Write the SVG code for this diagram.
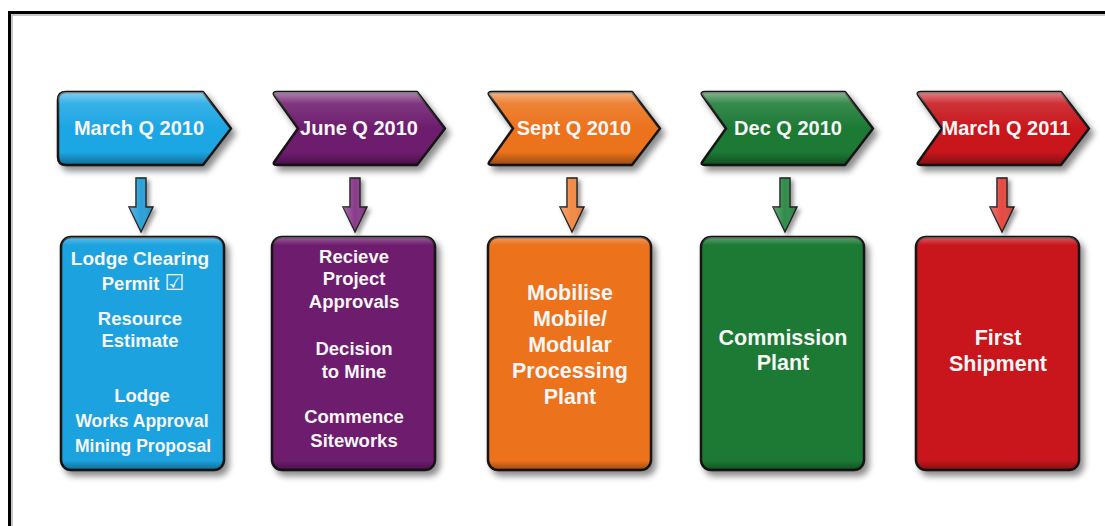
<svg xmlns="http://www.w3.org/2000/svg" width="1105" height="526" viewBox="0 0 1105 526">
  <style>
    .lbl { font-family: "Liberation Sans", Arial, sans-serif; font-weight: bold; fill: #f6f6f6; text-anchor: middle; }
    .hdr { font-size: 20px; }
    .sm { font-size: 18.5px; }
    .lg { font-size: 21.5px; }
    .edge { stroke: #161616; stroke-width: 2.5; stroke-linejoin: round; }
    .conn { stroke: #1c1c1c; stroke-width: 1.4; stroke-linejoin: miter; }
    .tick { font-family: "DejaVu Sans", sans-serif; font-weight: normal; font-size: 22px; }
  </style>
  <defs>
    <!-- header tab with flat left end (first quarter) -->
    <path id="tabFlat" d="M8,0 H145 L173,36.5 L145,73 H8 Q0,73 0,65 V8 Q0,0 8,0 Z"/>
    <!-- header chevron with notched left end -->
    <path id="tabChev" d="M5,0 H145 L173,36.5 L145,73 H5 Q0,73 2.5,69.5 L26,36.5 L2.5,3.5 Q0,0 5,0 Z"/>
    <!-- milestone card -->
    <rect id="card" x="0" y="0" width="163" height="233" rx="10" ry="10"/>
    <!-- down arrow, centred on x=0 -->
    <path id="down" d="M-5,178 H5 V207 H12 L0,232 L-12,207 H-5 Z"/>

    <linearGradient id="tabShade" x1="0" y1="0" x2="0" y2="1">
      <stop offset="0" stop-color="#fff" stop-opacity="0.45"/>
      <stop offset="0.16" stop-color="#fff" stop-opacity="0.12"/>
      <stop offset="0.5" stop-color="#fff" stop-opacity="0"/>
      <stop offset="0.82" stop-color="#000" stop-opacity="0"/>
      <stop offset="1" stop-color="#000" stop-opacity="0.35"/>
    </linearGradient>
    <linearGradient id="cardShade" x1="0" y1="0" x2="0" y2="1">
      <stop offset="0" stop-color="#fff" stop-opacity="0.3"/>
      <stop offset="0.035" stop-color="#fff" stop-opacity="0"/>
      <stop offset="0.96" stop-color="#000" stop-opacity="0"/>
      <stop offset="1" stop-color="#000" stop-opacity="0.35"/>
    </linearGradient>
    <linearGradient id="arrowShade" x1="0" y1="0" x2="1" y2="0">
      <stop offset="0" stop-color="#fff" stop-opacity="0.25"/>
      <stop offset="0.5" stop-color="#fff" stop-opacity="0"/>
      <stop offset="1" stop-color="#000" stop-opacity="0.2"/>
    </linearGradient>

    <filter id="drop" x="-10%" y="-10%" width="130%" height="130%">
      <feGaussianBlur in="SourceAlpha" stdDeviation="3"/>
      <feOffset dx="4" dy="5" result="b"/>
      <feFlood flood-color="#000" flood-opacity="0.45"/>
      <feComposite in2="b" operator="in"/>
      <feMerge>
        <feMergeNode/>
        <feMergeNode in="SourceGraphic"/>
      </feMerge>
    </filter>
    <filter id="dropSm" x="-50%" y="-20%" width="200%" height="150%">
      <feGaussianBlur in="SourceAlpha" stdDeviation="2"/>
      <feOffset dx="3" dy="3" result="b"/>
      <feFlood flood-color="#000" flood-opacity="0.4"/>
      <feComposite in2="b" operator="in"/>
      <feMerge>
        <feMergeNode/>
        <feMergeNode in="SourceGraphic"/>
      </feMerge>
    </filter>
  </defs>

  <rect width="1105" height="526" fill="#fff"/>

  <!-- frame -->
  <path d="M9.5,526 V12.5 H1105" fill="none" stroke="#000" stroke-width="3"/>
  <path d="M12,526 V15 H1105" fill="none" stroke="#b4b4b4" stroke-width="1.5"/>

  <!-- connectors -->
  <g id="connectors" class="conn">
    <g filter="url(#dropSm)"><use href="#down" x="141" fill="#2aa0da"/></g>
    <use href="#down" x="141" fill="url(#arrowShade)" stroke="none"/>
    <g filter="url(#dropSm)"><use href="#down" x="355" fill="#8a3a8a"/></g>
    <use href="#down" x="355" fill="url(#arrowShade)" stroke="none"/>
    <g filter="url(#dropSm)"><use href="#down" x="572" fill="#f28a45"/></g>
    <use href="#down" x="572" fill="url(#arrowShade)" stroke="none"/>
    <g filter="url(#dropSm)"><use href="#down" x="785" fill="#2e8c48"/></g>
    <use href="#down" x="785" fill="url(#arrowShade)" stroke="none"/>
    <g filter="url(#dropSm)"><use href="#down" x="1002" fill="#e5483f"/></g>
    <use href="#down" x="1002" fill="url(#arrowShade)" stroke="none"/>
  </g>

  <!-- quarter headers -->
  <g id="hdr-mar10" transform="translate(58,92)">
    <g filter="url(#drop)">
      <use href="#tabFlat" fill="#1aa6e4" class="edge"/>
    </g>
    <use href="#tabFlat" fill="url(#tabShade)"/>
    <text class="lbl hdr" x="81" y="43">March Q 2010</text>
  </g>
  <g id="hdr-jun10" transform="translate(272,92)">
    <g filter="url(#drop)">
      <use href="#tabChev" fill="#6e1b6e" class="edge"/>
    </g>
    <use href="#tabChev" fill="url(#tabShade)"/>
    <text class="lbl hdr" x="87" y="43">June Q 2010</text>
  </g>
  <g id="hdr-sep10" transform="translate(487,92)">
    <g filter="url(#drop)">
      <use href="#tabChev" fill="#ec721c" class="edge"/>
    </g>
    <use href="#tabChev" fill="url(#tabShade)"/>
    <text class="lbl hdr" x="87" y="43">Sept Q 2010</text>
  </g>
  <g id="hdr-dec10" transform="translate(700,92)">
    <g filter="url(#drop)">
      <use href="#tabChev" fill="#1b7a36" class="edge"/>
    </g>
    <use href="#tabChev" fill="url(#tabShade)"/>
    <text class="lbl hdr" x="88" y="43">Dec Q 2010</text>
  </g>
  <g id="hdr-mar11" transform="translate(916,92)">
    <g filter="url(#drop)">
      <use href="#tabChev" fill="#c8141c" class="edge"/>
    </g>
    <use href="#tabChev" fill="url(#tabShade)"/>
    <text class="lbl hdr" x="90" y="43">March Q 2011</text>
  </g>

  <!-- milestone cards -->
  <g id="card-mar10" transform="translate(61,237)">
    <g filter="url(#drop)">
      <use href="#card" fill="#1aa2de" class="edge"/>
    </g>
    <use href="#card" fill="url(#cardShade)"/>
    <g class="lbl sm">
      <text x="79" y="28" style="font-size:19px">Lodge Clearing</text>
      <text x="82" y="53"><tspan>Permit </tspan><tspan class="tick">☑</tspan></text>
      <text x="79" y="88">Resource</text>
      <text x="79" y="110">Estimate</text>
      <text x="81" y="165">Lodge</text>
      <text x="81" y="190" style="font-size:17.5px">Works Approval</text>
      <text x="82" y="215" style="font-size:17.5px">Mining Proposal</text>
    </g>
  </g>
  <g id="card-jun10" transform="translate(272,237)">
    <g filter="url(#drop)">
      <use href="#card" fill="#6e1b6e" class="edge"/>
    </g>
    <use href="#card" fill="url(#cardShade)"/>
    <g class="lbl sm">
      <text x="82" y="26">Recieve</text>
      <text x="82" y="48">Project</text>
      <text x="82" y="71">Approvals</text>
      <text x="82" y="118">Decision</text>
      <text x="82" y="141">to Mine</text>
      <text x="82" y="186">Commence</text>
      <text x="82" y="210">Siteworks</text>
    </g>
  </g>
  <g id="card-sep10" transform="translate(488,237)">
    <g filter="url(#drop)">
      <use href="#card" fill="#ec721c" class="edge"/>
    </g>
    <use href="#card" fill="url(#cardShade)"/>
    <g class="lbl lg">
      <text x="82" y="63">Mobilise</text>
      <text x="82" y="89">Mobile/</text>
      <text x="82" y="115">Modular</text>
      <text x="82" y="141">Processing</text>
      <text x="82" y="167">Plant</text>
    </g>
  </g>
  <g id="card-dec10" transform="translate(701,237)">
    <g filter="url(#drop)">
      <use href="#card" fill="#1b7a36" class="edge"/>
    </g>
    <use href="#card" fill="url(#cardShade)"/>
    <g class="lbl lg">
      <text x="82" y="108">Commission</text>
      <text x="82" y="133">Plant</text>
    </g>
  </g>
  <g id="card-mar11" transform="translate(916,237)">
    <g filter="url(#drop)">
      <use href="#card" fill="#c8141c" class="edge"/>
    </g>
    <use href="#card" fill="url(#cardShade)"/>
    <g class="lbl lg">
      <text x="82" y="108">First</text>
      <text x="82" y="134">Shipment</text>
    </g>
  </g>
</svg>
